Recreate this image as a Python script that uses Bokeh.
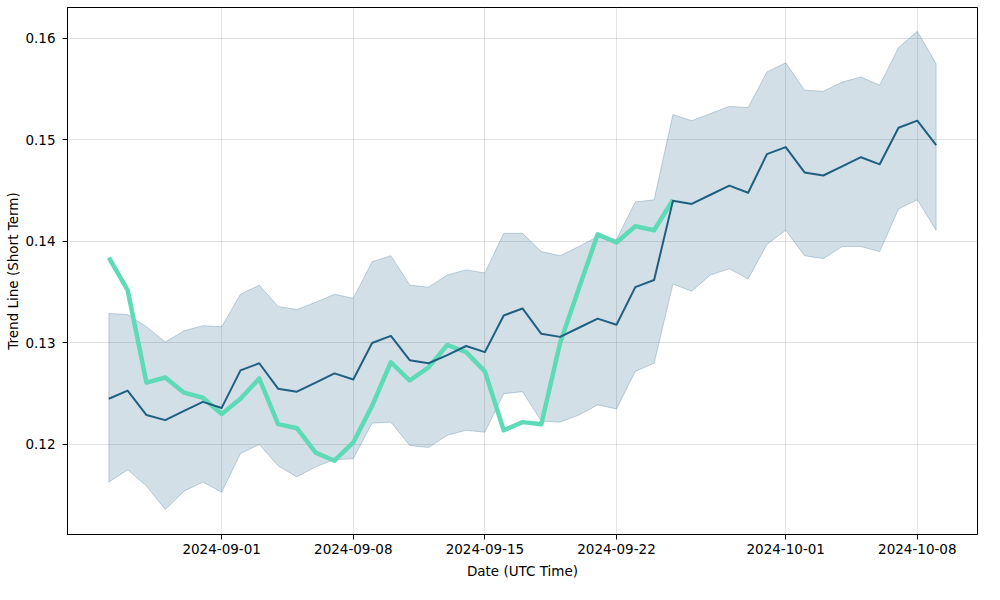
import pandas as pd
from bokeh.plotting import figure
from bokeh.models import FixedTicker, DatetimeTickFormatter
from bokeh.embed import file_html
from bokeh.resources import INLINE

start_date = "2024-08-26"
n_days = 45

trend = [0.1245, 0.1253, 0.1229, 0.1224, 0.1233, 0.1242, 0.1236, 0.1273, 0.1280, 0.1255,
         0.1252, 0.1261, 0.1270, 0.1264, 0.1300, 0.1307, 0.1283, 0.1280, 0.1288, 0.1297,
         0.1291, 0.1327, 0.1334, 0.1309, 0.1306, 0.1315, 0.1324, 0.1318, 0.1355, 0.1362,
         0.1440, 0.1437, 0.1446, 0.1455, 0.1448, 0.1486, 0.1493, 0.1468, 0.1465, 0.1474,
         0.1483, 0.1476, 0.1512, 0.1519, 0.1495]

upper = [0.1329, 0.1328, 0.1316, 0.1301, 0.1312, 0.1317, 0.1316, 0.1348, 0.1357, 0.1336,
         0.1333, 0.1340, 0.1348, 0.1344, 0.1380, 0.1386, 0.1357, 0.1355, 0.1367, 0.1372,
         0.1369, 0.1408, 0.1408, 0.1390, 0.1386, 0.1395, 0.1405, 0.1402, 0.1439, 0.1441,
         0.1525, 0.1519, 0.1526, 0.1533, 0.1532, 0.1567, 0.1576, 0.1549, 0.1548, 0.1557,
         0.1562, 0.1554, 0.1591, 0.1607, 0.1575]

lower = [0.1163, 0.1175, 0.1159, 0.1136, 0.1154, 0.1163, 0.1153, 0.1191, 0.1200, 0.1179,
         0.1168, 0.1178, 0.1185, 0.1186, 0.1221, 0.1222, 0.1199, 0.1197, 0.1209, 0.1214,
         0.1212, 0.1250, 0.1252, 0.1223, 0.1222, 0.1229, 0.1239, 0.1235, 0.1272, 0.1280,
         0.1358, 0.1351, 0.1367, 0.1373, 0.1363, 0.1397, 0.1411, 0.1386, 0.1383, 0.1395,
         0.1395, 0.1390, 0.1432, 0.1441, 0.1411]

price = [0.1384, 0.1352, 0.1261, 0.1266, 0.1251, 0.1246, 0.1230, 0.1245, 0.1265, 0.1220,
         0.1216, 0.1192, 0.1184, 0.1202, 0.1238, 0.1281, 0.1263, 0.1276, 0.1298, 0.1291,
         0.1272, 0.1214, 0.1222, 0.1220, 0.1300, 0.1354, 0.1407, 0.1399, 0.1415, 0.1411,
         0.1441]

x_tick_labels = ["2024-09-01", "2024-09-08", "2024-09-15", "2024-09-22", "2024-10-01", "2024-10-08"]
y_ticks = [0.12, 0.13, 0.14, 0.15, 0.16]

dates = list(pd.date_range(start_date, periods=n_days, freq="D"))
price_dates = dates[:len(price)]

span = dates[-1] - dates[0]
x_lo = dates[0] - span * 0.05
x_hi = dates[-1] + span * 0.05

p = figure(width=984, height=584, x_axis_type="datetime",
           output_backend="svg", toolbar_location=None,
           x_range=(x_lo, x_hi), y_range=(0.11113, 0.16305),
           min_border_left=67, min_border_right=7, min_border_top=7, min_border_bottom=50)

p.outline_line_color = "black"
p.outline_line_width = 1
p.background_fill_color = "white"
p.border_fill_color = "white"

band_x = dates + dates[::-1]
band_y = upper + lower[::-1]
p.patch(band_x, band_y, fill_color="#1f5f80", fill_alpha=0.2,
        line_color="#1f5f80", line_alpha=0.25, line_width=1)

p.line(price_dates, price, line_color="#5edbb6", line_width=4.5, line_join="round")
p.line(dates, trend, line_color="#1f5f80", line_width=2, line_join="round")

tick_ms = [pd.Timestamp(t).value // 10**6 for t in x_tick_labels]
p.xaxis.ticker = FixedTicker(ticks=tick_ms)
p.xaxis.formatter = DatetimeTickFormatter(days="%Y-%m-%d", months="%Y-%m-%d", years="%Y-%m-%d")
p.yaxis.ticker = FixedTicker(ticks=y_ticks)

p.xaxis.axis_label = "Date (UTC Time)"
p.yaxis.axis_label = "Trend Line (Short Term)"

for ax in (p.xaxis, p.yaxis):
    ax.axis_line_color = "black"
    ax.major_tick_line_color = "black"
    ax.major_tick_out = 5
    ax.major_tick_in = 0
    ax.minor_tick_line_color = None
    ax.major_label_text_font = "DejaVu Sans"
    ax.major_label_text_font_size = "13.5px"
    ax.major_label_text_color = "black"
    ax.axis_label_text_font = "DejaVu Sans"
    ax.axis_label_text_font_size = "13.5px"
    ax.axis_label_text_font_style = "normal"
    ax.axis_label_text_color = "black"
p.xaxis.major_label_standoff = 4
p.yaxis.major_label_standoff = 7
p.xaxis.axis_label_standoff = 6
p.yaxis.axis_label_standoff = 1

p.grid.grid_line_color = "#b0b0b0"
p.grid.grid_line_alpha = 0.35
p.grid.grid_line_width = 1

open("out.html", "w").write(file_html(p, INLINE))
